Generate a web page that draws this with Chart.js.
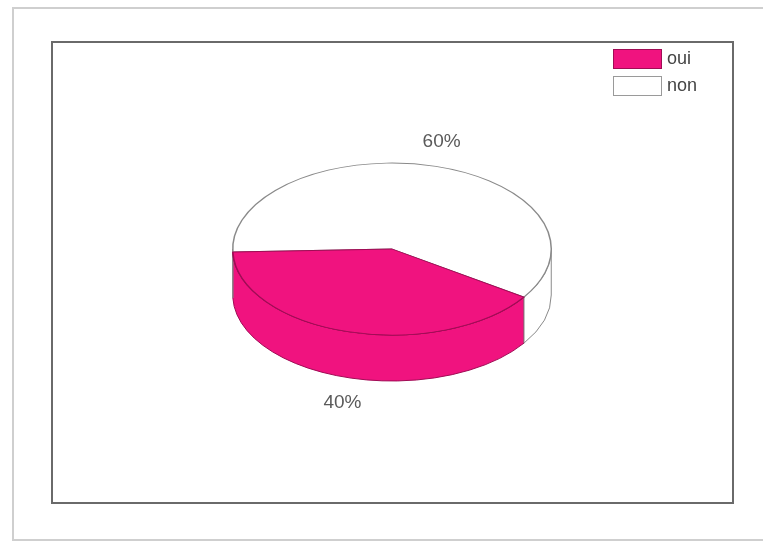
<!DOCTYPE html>
<html>
<head>
<meta charset="utf-8">
<script src="https://cdn.jsdelivr.net/npm/chart.js@4"></script>
<style>
  html, body { margin: 0; padding: 0; background: #fff; }
  canvas { display: block; }
</style>
</head>
<body>
<canvas id="pie" width="763" height="542"></canvas>
<script>
// data
const labels = ['oui', 'non'];
const values = [40, 60];
const pctLabels = ['40%', '60%'];

// look
const fillColors = ['#F0137F', '#FFFFFF'];
const edgeColors = ['#A00C55', '#8A8A8A'];
const squash = 0.54;   // vertical flattening of the pie top
const depth = 46;      // thickness of the 3d wall, px

function frontSpans(a1, a2) {
    // parts of [a1,a2] that fall in the front half (0..PI, canvas y down)
    const TAU = Math.PI * 2;
    const spans = [];
    for (let k = -1; k <= 2; k++) {
        const s = Math.max(a1, k * TAU);
        const e = Math.min(a2, k * TAU + Math.PI);
        if (e > s) spans.push([s - k * TAU, e - k * TAU]);
    }
    return spans;
}

const framePlugin = {
    id: 'frame',
    beforeDraw(chart) {
        const ctx = chart.ctx;
        ctx.save();
        ctx.fillStyle = '#fff';
        ctx.fillRect(0, 0, chart.width, chart.height);
        ctx.strokeStyle = '#cfcfcf';
        ctx.lineWidth = 2;
        ctx.strokeRect(13, 8, 770, 532);
        ctx.strokeStyle = '#6a6a6a';
        ctx.lineWidth = 2;
        ctx.strokeRect(52, 42, 681, 461);
        ctx.restore();
    }
};

const pie3dPlugin = {
    id: 'pie3d',
    beforeDatasetsDraw(chart) {
        const ctx = chart.ctx;
        const arcs = chart.getDatasetMeta(0).data;
        ctx.save();
        arcs.forEach((arc, i) => {
            const r = arc.outerRadius;
            frontSpans(arc.startAngle, arc.endAngle).forEach(([s, e]) => {
                ctx.beginPath();
                ctx.ellipse(arc.x, arc.y, r, r * squash, 0, s, e);
                ctx.ellipse(arc.x, arc.y + depth, r, r * squash, 0, e, s, true);
                ctx.closePath();
                ctx.fillStyle = fillColors[i];
                ctx.fill();
                ctx.strokeStyle = edgeColors[i];
                ctx.lineWidth = 1;
                ctx.stroke();
            });
        });
        ctx.restore();
        // flatten the top face drawn by chart.js
        const a = arcs[0];
        ctx.save();
        ctx.translate(a.x, a.y);
        ctx.scale(1, squash);
        ctx.translate(-a.x, -a.y);
    },
    afterDatasetsDraw(chart) {
        // put the 'oui' slice edge back on top of the grey one
        chart.getDatasetMeta(0).data[0].draw(chart.ctx);
        chart.ctx.restore();
    },
    afterDraw(chart) {
        const ctx = chart.ctx;
        const arcs = chart.getDatasetMeta(0).data;
        ctx.save();
        // percent labels
        ctx.font = '19px "Liberation Sans", Arial, sans-serif';
        ctx.fillStyle = '#5a5a5a';
        ctx.textAlign = 'center';
        ctx.textBaseline = 'middle';
        arcs.forEach((arc, i) => {
            const mid = (arc.startAngle + arc.endAngle) / 2;
            const r = arc.outerRadius;
            const sy = Math.sin(mid);
            const lx = arc.x + Math.cos(mid) * r * 1.13;
            const ly = arc.y + sy * r * squash * 1.3 + (sy > 0 ? depth : 0);
            ctx.fillText(pctLabels[i], lx, ly);
        });
        // legend
        ctx.font = '18px "Liberation Sans", Arial, sans-serif';
        ctx.textAlign = 'left';
        labels.forEach((lab, i) => {
            const y = 49 + i * 27;
            ctx.fillStyle = fillColors[i];
            ctx.fillRect(613, y, 49, 20);
            ctx.strokeStyle = i === 0 ? edgeColors[0] : '#9a9a9a';
            ctx.lineWidth = 1;
            ctx.strokeRect(613.5, y + 0.5, 48, 19);
            ctx.fillStyle = '#444';
            ctx.fillText(lab, 667, y + 10);
        });
        ctx.restore();
    }
};

new Chart(document.getElementById('pie'), {
    type: 'pie',
    data: {
        labels: labels,
        datasets: [{
            data: values,
            backgroundColor: fillColors,
            borderColor: edgeColors,
            borderWidth: 1.5
        }]
    },
    options: {
        responsive: false,
        animation: false,
        events: [],
        rotation: 124,
        layout: { padding: { left: 232, right: 211, top: 89, bottom: 133 } },
        plugins: {
            legend: { display: false },
            tooltip: { enabled: false }
        }
    },
    plugins: [framePlugin, pie3dPlugin]
});
</script>
</body>
</html>
